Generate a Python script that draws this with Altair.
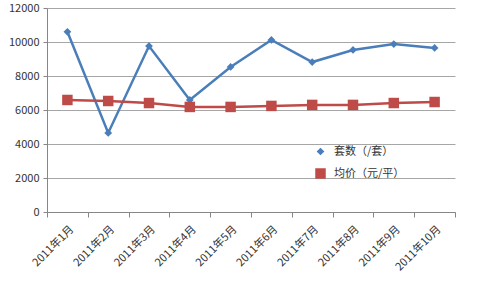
import altair as alt
import pandas as pd

months = ["2011年1月", "2011年2月", "2011年3月", "2011年4月", "2011年5月",
          "2011年6月", "2011年7月", "2011年8月", "2011年9月", "2011年10月"]
units = [10600, 4650, 9760, 6590, 8530, 10120, 8820, 9530, 9880, 9650]
price = [6590, 6530, 6410, 6180, 6180, 6240, 6300, 6300, 6410, 6470]
series = ["套数（/套）", "均价（元/平）"]
colors = ["#4a7ebb", "#be4b48"]

rows = []
for m, u, p in zip(months, units, price):
    rows.append({"month": m, "series": series[0], "value": u})
    rows.append({"month": m, "series": series[1], "value": p})
df = pd.DataFrame(rows)

FONT = "Noto Sans CJK SC"

x = alt.X("month:N", sort=months, title=None,
          scale=alt.Scale(paddingInner=0, paddingOuter=0),
          axis=alt.Axis(labelAngle=-45, labelAlign="right", labelBaseline="top",
                        tickBand="extent", grid=False, domainColor="#868686",
                        tickColor="#868686", tickSize=5, labelFontSize=11,
                        labelColor="#333333", labelFont=FONT, labelPadding=6))
y = alt.Y("value:Q", title=None,
          scale=alt.Scale(domain=[0, 12000]),
          axis=alt.Axis(values=[0, 2000, 4000, 6000, 8000, 10000, 12000], format="d",
                        gridColor="#a6a6a6", domainColor="#868686", tickColor="#868686",
                        tickSize=4, labelFontSize=11, labelColor="#333333",
                        labelFont=FONT, labelPadding=4))
legend = alt.Legend(title=None, orient="none", legendX=268, legendY=138,
                    labelFont=FONT, labelFontSize=11, labelColor="#333333",
                    rowPadding=10, symbolStrokeWidth=0, symbolSize=70, labelOffset=8)
color = alt.Color("series:N", sort=series,
                  scale=alt.Scale(domain=series, range=colors), legend=legend)
shape = alt.Shape("series:N", sort=series,
                  scale=alt.Scale(domain=series, range=["diamond", "square"]), legend=legend)

base = alt.Chart(df)
lines = base.mark_line(strokeWidth=2.5).encode(x=x, y=y, color=color)
points = base.mark_point(filled=True, opacity=1).encode(
    x=x, y=y, color=color, shape=shape,
    size=alt.Size("series:N", scale=alt.Scale(domain=series, range=[60, 110]), legend=None))

chart = alt.layer(lines, points).properties(
    width=408, height=204,
    padding={"left": 47, "top": 8, "right": 45, "bottom": 69},
    autosize=alt.AutoSizeParams(type="none"),
    background="white"
).configure_view(stroke=None)

chart.save("out.html", embed_options={"renderer": "svg", "actions": False})
